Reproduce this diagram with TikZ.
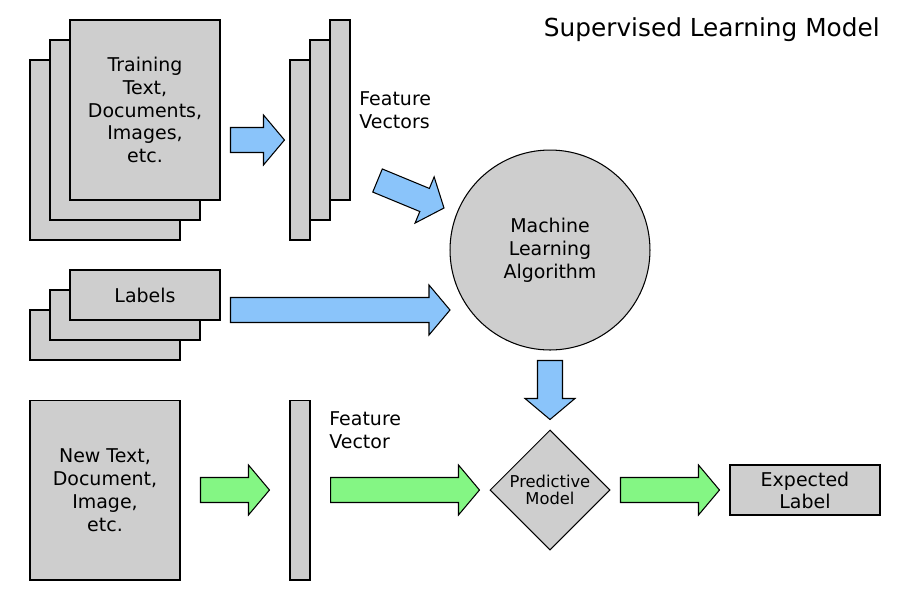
\documentclass[tikz,border=0pt]{standalone}
\usepackage{fontspec}
\setmainfont{DejaVu Sans}
\usetikzlibrary{calc,shapes.geometric}

\definecolor{boxgray}{RGB}{206,206,206}
\definecolor{arrowblue}{RGB}{138,196,250}
\definecolor{arrowgreen}{RGB}{132,246,132}

\tikzset{
  box/.style={draw, fill=boxgray, line width=0.6pt, rectangle, inner sep=0pt, align=center,
    font=\fontsize{10.8}{13}\selectfont},
  docbox/.style={box, minimum width=3cm, minimum height=3.6cm},
  labelbox/.style={box, minimum width=3cm, minimum height=1cm},
  vecbox/.style={box, minimum width=0.4cm, minimum height=3.6cm},
  txt/.style={align=left, inner sep=0pt, font=\fontsize{10.8}{13}\selectfont},
  barrow/.style={draw, fill=arrowblue, line width=0.6pt},
  garrow/.style={draw, fill=arrowgreen, line width=0.6pt},
}

% block arrow: style, tail point, tip point
\newcommand\blockarrow[3]{%
  \coordinate (ba-s) at (#2);
  \coordinate (ba-e) at (#3);
  \coordinate (ba-n) at ($(ba-e)!0.42cm!(ba-s)$);
  \draw[#1] ($(ba-s)!0.25cm!90:(ba-e)$) -- ($(ba-n)!0.25cm!90:(ba-e)$)
    -- ($(ba-n)!0.5cm!90:(ba-e)$) -- (ba-e) -- ($(ba-n)!0.5cm!-90:(ba-e)$)
    -- ($(ba-n)!0.25cm!-90:(ba-e)$) -- ($(ba-s)!0.25cm!-90:(ba-e)$) -- cycle;
}

\begin{document}
\begin{tikzpicture}[x=0.02cm,y=-0.02cm]
  \useasboundingbox (0,0) rectangle (900,600);

  \node[anchor=east, inner sep=0pt, font=\fontsize{14.1}{16}\selectfont] (title) at (880,30) {Supervised Learning Model};

  % training set
  \node[docbox] (train-back) at (105,150) {};
  \node[docbox] (train-mid) at (125,130) {};
  \node[docbox] (train-front) at (145,110) {Training\\Text,\\Documents,\\Images,\\etc.};

  % feature vectors
  \node[vecbox] (fv3) at (340,110) {};
  \node[vecbox] (fv2) at (320,130) {};
  \node[vecbox] (fv1) at (300,150) {};
  \node[txt, anchor=west] (fv-label) at (359,110) {Feature\\Vectors};

  % labels
  \node[labelbox] (lab-back) at (105,335) {};
  \node[labelbox] (lab-mid) at (125,315) {};
  \node[labelbox] (lab-front) at (145,295) {Labels};

  % algorithm and model
  \node[box, circle, minimum size=4cm] (mla) at (550,250) {Machine\\Learning\\Algorithm};
  \node[box, diamond, aspect=1, minimum size=2.4cm, font=\fontsize{9.3}{10}\selectfont] (pm) at (550,490) {Predictive\\Model};

  % new data
  \node[docbox] (new-doc) at (105,490) {New Text,\\Document,\\Image,\\etc.};
  \node[vecbox] (fv-new) at (300,490) {};
  \node[txt, anchor=west] (fvn-label) at (329,430) {Feature\\Vector};
  \node[labelbox, font=\fontsize{10.8}{12.5}\selectfont] (expected) at (805,490) {Expected\\Label};

  % arrows
  \blockarrow{barrow}{$(train-front.east)+(10,30)$}{$(fv1.west)+(-5,-10)$}
  \blockarrow{barrow}{$(fv3.south east)+(27,-20)$}{$(mla.center)+(-106,-42)$}
  \blockarrow{barrow}{$(lab-front.east)+(10,15)$}{$(mla.center)+(-100,60)$}
  \blockarrow{barrow}{$(mla.south)+(0,10)$}{$(pm.north)+(0,-10)$}
  \blockarrow{garrow}{$(new-doc.east)+(20,0)$}{$(fv-new.west)+(-20,0)$}
  \blockarrow{garrow}{$(fv-new.east)+(20,0)$}{$(pm.west)+(-10,0)$}
  \blockarrow{garrow}{$(pm.east)+(10,0)$}{$(expected.west)+(-10,0)$}
\end{tikzpicture}
\end{document}
